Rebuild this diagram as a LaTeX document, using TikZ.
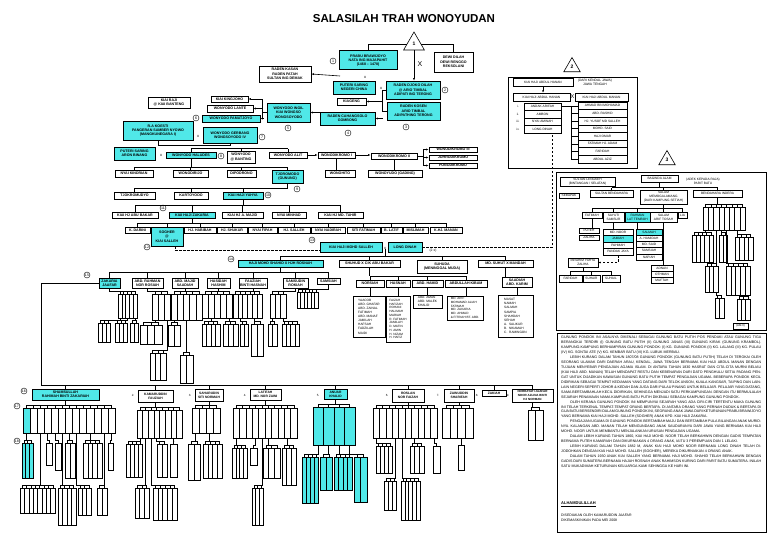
\documentclass[tikz,border=0pt]{standalone}
\usepackage{fontspec}
\setmainfont{Liberation Sans}
\usetikzlibrary{arrows.meta,shapes.geometric}
\definecolor{cy}{RGB}{80,232,232}
\tikzset{
 ln/.style={line width=0.6pt},
 arr/.style={ln,-{Latex[length=2.4pt,width=2pt]}},
 dsh/.style={ln,dash pattern=on 2.5pt off 1.5pt},
 pbox/.style={draw,line width=0.8pt,fill=white,inner sep=0.4pt,align=center,font=\fontsize{3.6}{4.3}\selectfont\bfseries},
 cbox/.style={pbox,fill=cy},
 sbox/.style={pbox,line width=0.6pt,font=\fontsize{3.2}{3.9}\selectfont},
 scbox/.style={sbox,fill=cy},
 lbox/.style={pbox,align=left,font=\fontsize{3.2}{4.1}\selectfont,inner sep=1.2pt},
 gbox/.style={draw,line width=0.45pt,fill=white,inner sep=0pt},
 gcbox/.style={gbox,fill=cy},
 circ/.style={draw,circle,line width=0.4pt,inner sep=0pt,minimum size=6pt,font=\fontsize{3.6}{4}\selectfont},
 tri/.style={draw,line width=0.6pt,regular polygon,regular polygon sides=3,inner sep=0pt,font=\fontsize{5}{5}\bfseries\selectfont},
 xm/.style={inner sep=0pt,font=\fontsize{4}{4}\selectfont},
 frame/.style={draw,line width=0.9pt},
}
\newcommand\bx[7][pbox]{\node[#1, minimum width={(#5-#3)*1pt}, minimum height={(#6-#4)*1pt}] (#2) at ({(#3+#5)/2},{(#4+#6)/2}) {#7};}
\newcommand\grp[7][gbox]{%
  \pgfmathsetmacro\gw{(#5-#3)/#7}%
  \pgfmathsetmacro\gy{(#4+#6)/2}%
  \pgfmathsetmacro\gh{#6-#4}%
  \foreach \i in {1,...,#7}{%
    \pgfmathsetmacro\gx{#3+(\i-0.5)*\gw}%
    \node[#1, minimum width=\gw pt, minimum height=\gh pt] (#2-\i) at (\gx,\gy) {};%
  }%
  \coordinate (#2-bar) at ([yshift=2.5pt]#2-1.north);%
  \draw[ln] (#2-bar) -- ([yshift=2.5pt]#2-#7.north);%
  \foreach \i in {1,...,#7}{\draw[ln] (#2-\i.north) -- ++(0,-2.5);}%
}
\newcommand\link[2]{\draw[ln] (#1.south) |- (#2-bar);}
\begin{document}
\begin{tikzpicture}[x=1pt,y=-1pt]
\useasboundingbox (0,0) rectangle (768,535);
\node[font=\fontsize{11.5}{12}\selectfont\bfseries] (title) at (404,19) {SALASILAH TRAH WONOYUDAN};

% ---------- top generations ----------
\node[tri,minimum size=24pt] (t1) at (414,44) {1};
\node[tri,minimum size=19pt] (t2) at (572,67) {2};
\node[tri,minimum size=19pt] (t3) at (667,160) {3};

\bx[cbox,line width=1pt]{prabu}{339}{51}{397}{70}{PRABU BRAWIJOYO\\NATA ING MAJAPAHIT\\(1468 -- 1478)}
\bx{dewi}{434}{52}{473}{72}{DEWI DILAH\\DEWI RENGGO\\REKSOLANI}
\draw[ln] (t1.west) -| (prabu.north);
\draw[ln] (t1.east) -| (dewi.north);
\bx[cbox]{djoko}{386}{81}{440}{99}{RADEN DJOKO DILAH\\@ ARIO TIMBAL\\ADIPATI ING TERONG}
\draw[arr] (t1.south) -- (t1.south |- djoko.north);
\node[font=\fontsize{7}{7}\selectfont] (bigx) at (420,64) {X};
\bx{kasan}{259}{66}{311}{82}{RADEN KASAN\\RADEN PATAH\\SULTAN ING DEMAK}
\coordinate (kasanin) at (340,76);
\draw[arr] (kasanin) -- (kasan.east);
\node[xm] (xk) at (365,77) {x};
\bx[cbox]{saring}{333}{81}{375}{94}{PUTERI SARING\\NEGERI CHINA}
\node[xm] (xs) at (381,88) {x};
\bx[cbox]{kosen}{387}{102}{440}{120}{RADEN KOSEN\\ARIO TIMBAL\\ADIPATHING TERONG}
\draw[ln] (djoko.west) -- ++(-3,0) coordinate (dk) |- (kosen.west);
\bx{kiageng}{337}{98}{366}{105}{KIAGENG}
\bx[cbox]{cahang}{320}{112}{375}{125}{RADEN CAHANGSOLO\\GOMBONG}
\draw[arr] (dk |- kiageng) -- (kiageng.east);
\draw[arr] (dk |- cahang) -- (cahang.east);
\bx[cbox]{ingil}{267}{103}{310}{122}{WONYODO INGIL\\KIAI WONGSO\\WONGSOYODO}
\draw[arr] (cahang.west |- ingil.east) -- (ingil.east);
\bx{kingjoho}{211}{96}{248}{102}{KIAI KINGJOHO}
\bx{lante}{207}{105}{253}{112}{WONYODO LANTE}
\bx[cbox]{pamat}{202}{115}{260}{122}{WONYODO PAMATJOYO}
\draw[ln] (ingil.west) -- ++(-4,0) coordinate (ib);
\draw[ln] (ib |- kingjoho) -- (ib |- pamat);
\foreach \n in {kingjoho,lante,pamat} \draw[arr] (ib |- \n) -- (\n.east);
\bx{raji}{148}{97}{190}{108}{KIAI RAJI\\@ KIAI BANTENG}
\bx[cbox]{koesti}{123}{121}{193}{140}{R.A KOESTI\\PANGERAN SAMBER NYOWO\\(MANGKUNEGARA I)}
\node[xm] (xg) at (198,136) {x};
\bx[cbox]{gerbang}{203}{127}{257}{143}{WONYODO GERBANG\\WONGSOYODO IV}
\draw[ln] (koesti.south) -- ++(0,5) -| (gerbang.south);

\bx[cbox]{psaring}{114}{147}{155}{160}{PUTERI SARING\\ARON BINANG}
\node[xm] (xh) at (161,155) {x};
\bx[cbox]{haludes}{166}{152}{216}{158}{WONYODO HALUDES}
\bx{banting}{227}{151}{255}{163}{WONYODO\\@ BANTING}
\bx{alit}{269}{152}{307}{158}{WONYODO ALIT}
\bx{wk1}{318}{152}{355}{158}{WONODIKROMO I}
\bx{wk2}{371}{153}{417}{159}{WONODIKROMO II}
\bx{wk3}{429}{147}{477}{152}{WONODIKROMO III}
\bx{johro}{429}{155}{477}{160}{JOHRODIKROMO}
\bx{pondo}{429}{163}{477}{168}{PONODIKROMO}
\coordinate (yA) at (0,148.5);
\foreach \n in {haludes,banting,alit} \draw[ln] (\n.north) -- (\n.north |- yA);
\draw[ln] (haludes.north |- yA) -- (alit.north |- yA);
\draw[ln] (gerbang.south) ++(0,5) -- (gerbang.south |- yA);
\draw[arr] (alit.east) -- (wk1.west);
\draw[arr] (wk1.east) -- (wk1.east -| wk2.west);
\draw[ln] (wk2.east) -- ++(6,0) coordinate (wb);
\draw[ln] (wb |- wk3) -- (wb |- pondo);
\foreach \n in {wk3,johro,pondo} \draw[arr] (wb |- \n) -- (\n.west);

\bx{kindrian}{115}{170}{153}{177}{NYAI KINDRIAN}
\bx{wonodirijo}{173}{170}{208}{177}{WONODIRIJO}
\bx{dipodrono}{227}{170}{256}{177}{DIPODRONO}
\bx[cbox]{tjoromodo}{272}{170}{303}{183}{TJOROMODO\\(GUNUNG)}
\bx{wonohito}{325}{170}{355}{177}{WONOHITO}
\bx{gading}{368}{170}{422}{177}{WONOYUDO (GADING)}
\coordinate (yB) at (0,167);
\foreach \n in {kindrian,wonodirijo,dipodrono,tjoromodo} \draw[ln] (\n.north) -- (\n.north |- yB);
\draw[ln] (kindrian.north |- yB) -- (tjoromodo.north |- yB);
\draw[ln] (haludes.south) -- (haludes.south |- yB);
\draw[ln] (wk1.south) -- (wk1.south |- wonohito.north);
\draw[ln] (wk2.south) -- (wk2.south |- gading.north);

\bx{tjokro}{114}{192}{155}{199}{TJOKROMUDYO}
\bx{kartoyodo}{174}{192}{208}{199}{KARTOYODO}
\bx[cbox]{yahya}{223}{192}{263}{199}{KIAI HAJI YAHYA}
\coordinate (yC) at (0,188);
\foreach \n in {tjokro,kartoyodo,yahya} \draw[ln] (\n.north) -- (\n.north |- yC);
\draw[ln] (tjokro.north |- yC) -- (tjoromodo.south |- yC) -- (tjoromodo.south);

\bx{abubakar}{112}{212}{158}{218}{KIAI HJ ABU BAKAR}
\bx[cbox]{zakaria}{169}{212}{215}{218}{KIAI HAJI ZAKARIA}
\bx{amajid}{222}{212}{263}{218}{KIAI HJ A. MAJID}
\bx{minhad}{272}{212}{306}{218}{NYAI MINHAD}
\bx{tahir}{318}{212}{363}{218}{KIAI HJ MD. TAHIR}
\coordinate (yD) at (0,205);
\foreach \n in {abubakar,zakaria,amajid,minhad,tahir} \draw[ln] (\n.north) -- (\n.north |- yD);
\draw[ln] (abubakar.north |- yD) -- (tahir.north |- yD);
\draw[ln] (yahya.south) -- (yahya.south |- yD);

\bx{darini}{125}{227}{150}{233}{K. DARINI}
\bx[cbox]{sogher}{151}{227}{183}{246}{SOGHER\\@\\KIAI SALLEH}
\bx{habibah}{184}{227}{216}{233}{HJ. HABIBAH}
\bx{shukur}{217}{227}{247}{233}{HJ. SHUKUR}
\bx{fipah}{248}{227}{277}{233}{NYAI FIPAH}
\bx{hsalleh}{278}{227}{310}{233}{HJ. SALLEH}
\bx{nadirah}{311}{227}{345}{233}{NYAI NADIRAH}
\bx{sfatimah}{347}{227}{380}{233}{SITI FATIMAH}
\bx{blatif}{381}{227}{402}{233}{B. LATIF}
\bx{mislimah}{403}{227}{428}{233}{MISLIMAH}
\bx{kmanan}{430}{227}{462}{233}{K.HJ. MANAN}
\coordinate (yE) at (0,223);
\foreach \n in {darini,sogher,habibah,shukur,fipah,hsalleh,nadirah,sfatimah,blatif,mislimah,kmanan} \draw[ln] (\n.north) -- (\n.north |- yE);
\draw[ln] (darini.north |- yE) -- (kmanan.north |- yE);
\draw[ln] (zakaria.south) -- (zakaria.south |- yE);

\bx[cbox]{msalleh}{320}{242}{382}{252}{KIAI HAJI MOHD SALLEH}
\node[xm] (mx) at (385,248) {x};
\bx[cbox]{ldinah}{388}{242}{422}{252}{LONG DINAH}
\coordinate (dsa) at (175,250);
\draw[dsh] (sogher.south -| dsa) -- (dsa) -- (dsa -| msalleh.west);
\node[xm,font=\fontsize{3.4}{3.4}\selectfont] (twox) at (433,251) {(2 x)};

% ---------- panel 2 ----------
\draw[frame] (508,77) rectangle (637,168);
\bx[sbox]{bh1}{513}{78}{573}{86}{KIAI HAJI ABDUL HANAN}
\node[font=\fontsize{3.3}{3.9}\selectfont,align=center] (bh1note) at (595,82) {(DARI KENDAL JAWA)\\JAWA TENGAH};
\bx[sbox]{bh2}{513}{93}{570}{101}{KIAI HAJI ABDUL HANAN}
\node[font=\fontsize{5.5}{5.5}\selectfont,inner sep=0pt] (bx2) at (572.5,97) {X};
\bx[sbox]{bm}{575}{93}{628}{101}{KIAI HAJI ABDUL MANAN}
\draw[arr] (bh1.south) -- (bh1.south |- bh2.north);
\foreach \t/\r [count=\k] in {ANDAK ARIFAH/i.,AMBON/ii.,NYAI AMINAH/iii.,LONG DINAH/iv.}{
  \pgfmathsetmacro\ya{103+(\k-1)*7.5}\pgfmathsetmacro\yb{\ya+7.5}
  \bx[sbox]{bl\k}{524}{\ya}{561}{\yb}{\t}
  \node[xm,font=\fontsize{3}{3}\selectfont] (rn\k) at (518,{\ya+3.75}) {\r};
}
\foreach \t [count=\k] in {AHMAD BIN MOHAMAD,ABD. RASHID,HJ. YUSOF MD SALLEH,MOHD. SAID,HAJI OMAR,FATIMAH HJ. ADAM,FARIDAH,ABDUL AZIZ}{
  \pgfmathsetmacro\ya{102+(\k-1)*7.6}\pgfmathsetmacro\yb{\ya+7.6}
  \bx[sbox]{br\k}{578}{\ya}{627}{\yb}{\t}
}
\coordinate (lad) at (571,0);
\draw[ln] (bl1.east) -- (bl1.east -| lad);
\draw[ln] (br1.west -| lad) -- (br8.west -| lad);
\foreach \k in {1,...,8} \draw[ln] (br\k.west -| lad) -- (br\k.west);
\draw[dsh] (ldinah.east) -| ([xshift=10pt]bl4.south);

% ---------- Mohd Salleh's children ----------
\bx[cbox]{shahid}{238}{260}{323}{267}{HAJI MOHD SHAHID X HJH ROSNAH}
\bx{shuhud}{339}{260}{400}{267}{SHUHUD X CIK ABU BAKAR}
\bx{suhuda}{417}{260}{467}{273}{SUHUDA\\(MENINGGAL MUDA)}
\bx{suhut}{478}{260}{533}{267}{MD. SUHUT X MANDAH}
\coordinate (yF) at (0,256);
\foreach \n in {shahid,shuhud,suhuda,suhut} \draw[ln] (\n.north) -- (\n.north |- yF);
\draw[ln] (shahid.north |- yF) -- (suhut.north |- yF);
\draw[ln] (mx.south) -- (mx.south |- yF);

\bx{norsiah}{356}{280}{384}{287}{NORSIAH}
\bx{hasnah}{386}{280}{410}{287}{HASNAH}
\bx{ahamid}{412}{280}{443}{287}{ABD. HAMID}
\bx{abdullah}{445}{280}{487}{287}{ABDULLAH KIBAM}
\coordinate (yG) at (0,276);
\foreach \n in {norsiah,hasnah,ahamid,abdullah} \draw[ln] (\n.north) -- (\n.north |- yG);
\draw[ln] (norsiah.north |- yG) -- (abdullah.north |- yG);
\draw[ln] (shuhud.south) -- (shuhud.south |- yG);
\bx{saadiah}{502}{277}{532}{287}{SAADIAH\\ABD. KARIM}
\draw[ln] (suhut.south) -- (suhut.south |- saadiah.north);

\bx[lbox]{lnorsiah}{353}{296}{385}{337}{YAACOB\\ABD. GHAFAR\\ABD. ZAINAL\\FATIMAH\\ABD. MANAF\\JAMILAH\\HAFSAH\\FADZILAH\\MAIDI}
\bx[lbox,font=\fontsize{3.1}{3.75}\selectfont]{lhasnah}{386}{296}{410}{342}{FAIZAH\\HAFIZAH\\ROHANI\\HALIMAH\\MARIAH\\R. FATIMAH\\JAMILAH\\D. MATIN\\H. AMIN\\H. NIZAM\\H. HAFIZ}
\bx[lbox]{lahamid}{413}{296}{442}{307}{ABD. AMAN\\ABD. MALEK\\KHALID}
\bx[lbox,font=\fontsize{3.1}{3.7}\selectfont]{labdullah}{447}{296}{483}{320}{MD. ARIF\\MOHAMAD ALIAH\\FATIMAH\\MD. ZAKARIA\\MD. AHMAD\\\& FITRIAH BT. ABD.}
\bx[lbox]{lsaadiah}{498}{295}{533}{337}{MASAT\\NAMAH\\SALMAH\\SAMPIA\\SHAHDAH\\SEHAH\\A.\ \ SALIKUR\\B.\ \ NIKAMAH\\C.\ \ RAMINGON}
\foreach \a/\b in {norsiah/lnorsiah,hasnah/lhasnah,ahamid/lahamid,abdullah/labdullah,saadiah/lsaadiah} \draw[ln] (\a.south) -- (\a.south |- \b.north);

% ---------- Haji Mohd Shahid's children ----------
\bx[cbox]{zakariaj}{99}{278}{120}{288}{ZAKARIA\\JAAFAR}
\bx{arahman}{132}{278}{163}{288}{ABD. RAHMAN\\NOR ROSIAH}
\bx{amajid2}{172}{278}{198}{288}{ABD. MAJID\\SAADIAH}
\bx{hashim}{207}{278}{230}{288}{HASIDAH\\HASHIM}
\bx{rahmah}{239}{278}{267}{288}{FAUZIAH\\BINTI HASNAH}
\bx{umirah}{283}{278}{308}{288}{SAMSUDIN\\ROKIAH}
\bx{samiah}{317}{278}{340}{284}{SAMSIAH}
\coordinate (yH) at (0,272);
\foreach \n in {zakariaj,arahman,amajid2,hashim,rahmah,umirah,samiah} \draw[ln] (\n.north) -- (\n.north |- yH);
\draw[ln] (zakariaj.north |- yH) -- (samiah.north |- yH);
\draw[ln] (shahid.south) -- (shahid.south |- yH);

\grp{Ga}{118}{294}{137}{318}{5} \link{zakariaj}{Ga}
\grp{Ga1}{98}{323}{110}{342}{3} \link{Ga-1}{Ga1}
\grp{Ga2}{115}{323}{127}{342}{3} \link{Ga-3}{Ga2}
\grp{Ga3}{130}{323}{138}{342}{2} \link{Ga-5}{Ga3}
\grp{Gb}{152}{294}{170}{320}{3} \link{arahman}{Gb}
\grp{Gc}{171}{294}{202}{320}{5} \link{amajid2}{Gc}
\grp{Gb1}{140}{325}{162}{344}{3} \link{Gb-1}{Gb1}
\grp{Gb2}{168.5}{325}{180}{346}{2} \link{Gc-1}{Gb2}
\grp{Gb3}{150}{353}{166}{380}{3} \link{Gb-3}{Gb3}
\grp{Gb4}{180}{355}{193}{383}{2} \link{Gc-3}{Gb4}
\grp{Gd}{202}{294}{232}{318}{5} \link{hashim}{Gd}
\grp{Ge}{233}{294}{262}{318}{6} \link{rahmah}{Ge}
\grp{Gd1}{202}{324}{220}{346}{4} \link{Gd-2}{Gd1}
\grp{Gd2}{223}{324}{238}{346}{3} \link{Gd-5}{Gd2}
\grp{Ge1}{240}{324}{248}{346}{2} \link{Ge-2}{Ge1}
\grp{Ge2}{251}{324}{263}{356}{2} \link{Ge-5}{Ge2}
\grp{Gf}{270}{294}{286}{318}{3} \link{umirah}{Gf}
\grp{Gg}{297}{292}{318}{308}{6} \link{samiah}{Gg}
\grp{Gf1}{268}{324}{277}{346}{2} \link{Gf-1}{Gf1}
\grp{Gf2}{282}{324}{299}{346}{4} \link{Gf-3}{Gf2}

% ---------- Zakaria Jaafar's families ----------
\bx[cbox]{b1}{32}{389}{99}{400}{SHAMSULLAH\\RAHIMAH BINTI ZAKARIAH}
\bx[pbox,font=\fontsize{3.3}{3.9}\selectfont\bfseries]{b2}{138}{390}{173}{402}{KAMARUDDIN\\FAUZIAH}
\bx[pbox,font=\fontsize{3.3}{3.9}\selectfont\bfseries]{b3}{195}{389}{223}{401}{SAHARUDIN\\SITI NORMAH}
\bx[pbox,font=\fontsize{3.3}{3.9}\selectfont\bfseries]{b4}{250}{389}{281}{400}{LATIFAH\\MD. NOR ZAINI}
\bx[cbox,font=\fontsize{3.3}{3.9}\selectfont\bfseries]{b5}{324}{389}{347}{399}{ANUAR\\KHALID}
\bx[pbox,font=\fontsize{3.3}{3.9}\selectfont\bfseries]{b6}{392}{389}{424}{402}{ROSLAN\\NOR FAIZAH}
\bx[pbox,font=\fontsize{3.3}{3.9}\selectfont\bfseries]{b7}{444}{389}{474}{402}{ZAINUDDIN\\SHARIFAH}
\bx[pbox,font=\fontsize{3.3}{3.9}\selectfont\bfseries]{b8}{482}{390}{506}{396}{ZAKIAH}
\bx[pbox,font=\fontsize{3}{3.6}\selectfont\bfseries]{b9}{512}{389}{553}{402}{NORHAYATI JAAFAR\\NOOR AZLINA BINTI\\HJ NORMAN}
\coordinate (lv) at (41,385);
\draw[ln] (zakariaj.west) -| (lv) -- (lv -| b9.north) -- (b9.north);
\foreach \n in {b1,b2,b3,b4,b5,b6,b7,b8} \draw[ln] (\n.north |- lv) -- (\n.north);
\foreach \xx/\t [count=\k] in {133/2.,190/3.,245/4.,318/5.,387/6.,438/7.,477/8.,508/9.} \node[xm,font=\fontsize{3}{3}\selectfont] (num\k) at (\xx,395) {\t};

\grp{G1}{23}{408}{115}{433}{13} \link{b1}{G1}
\node[gcbox,minimum width=7.08pt,minimum height=25pt] (G1cy) at (G1-1) {};
\grp[gcbox]{G1a}{22}{443}{33}{478}{3} \link{G1-1}{G1a}
\grp{G1b}{46}{443}{52}{465}{1} \link{G1-4}{G1b}
\grp{G1c}{55}{443}{61}{470}{1} \link{G1-5}{G1c}
\grp{G1d}{65}{443}{75}{478}{2} \link{G1-7}{G1d}
\grp{G1e}{83}{443}{102}{478}{4} \link{G1-10}{G1e}
\grp{G1f}{108}{443}{113}{470}{1} \link{G1-13}{G1f}
\grp{G1g}{20}{488}{55}{513}{8} \link{G1-3}{G1g}
\grp{G1h}{58}{488}{76}{525}{4} \link{G1-6}{G1h}
\grp{G1i}{78}{488}{91}{515}{3} \link{G1-8}{G1i}
\grp{G1j}{97}{488}{107}{515}{2} \link{G1-12}{G1j}

\grp{G2}{137}{410}{182}{438}{8} \link{b2}{G2}
\grp{G2a}{126}{444}{142}{477}{4} \link{G2-1}{G2a}
\grp{G2b}{157}{444}{167}{477}{2} \link{G2-4}{G2b}
\grp{G2c}{170}{444}{177}{477}{1} \link{G2-7}{G2c}
\grp{G2d}{135}{488}{149}{518}{3} \link{G2-2}{G2d}
\grp{G2e}{153}{488}{177}{520}{5} \link{G2-3}{G2e}

\grp{G3}{192}{408}{220}{433}{4} \link{b3}{G3}
\grp{G3a}{188}{444}{200}{480}{2} \link{G3-1}{G3a}
\grp{G3b}{203}{444}{222}{478}{4} \link{G3-3}{G3b}

\grp{G4}{233}{408}{297}{438}{10} \link{b4}{G4}
\grp{G4a}{232}{448}{247}{478}{4} \link{G4-1}{G4a}
\grp{G4b}{250}{448}{257}{465}{1} \link{G4-4}{G4b}
\grp{G4c}{263}{448}{280}{478}{3} \link{G4-6}{G4c}
\grp{G4d}{252}{488}{263}{525}{3} \link{G4-5}{G4d}
\grp{G4e}{282}{448}{296}{485}{3} \link{G4-9}{G4e}

\grp[gcbox]{G5}{313}{407}{355}{445}{4} \link{b5}{G5}
\grp[gcbox]{G5a}{302}{457}{318}{503}{4} \link{G5-1}{G5a}
\grp[gcbox]{G5b}{320}{457}{332}{490}{2} \link{G5-2}{G5b}
\grp[gcbox]{G5c}{334}{457}{352}{490}{4} \link{G5-3}{G5c}
\grp[gcbox]{G5d}{354}{457}{367}{502}{2} \link{G5-4}{G5d}

\grp{G6}{373}{408}{437}{438}{10} \link{b6}{G6}
\grp{G6a}{376}{446}{392}{473}{4} \link{G6-1}{G6a}
\grp{G6b}{410}{446}{424}{473}{3} \link{G6-7}{G6b}
\grp{G6c}{433}{446}{440}{473}{1} \link{G6-10}{G6c}
\grp{G6d}{384}{481}{396}{510}{3} \link{G6-4}{G6d}
\grp{G6e}{401}{481}{420}{520}{5} \link{G6-5}{G6e}

\grp{G7}{442}{408}{473}{438}{4} \link{b7}{G7}
\grp{G7a}{458}{445}{464}{470}{1} \link{G7-3}{G7a}
\grp{G9}{528}{410}{543}{440}{2} \link{b9}{G9}

% ---------- panel 3 ----------
\draw[frame] (556,172) rectangle (766,330);
\bx[sbox]{lengkeh}{560}{177}{615}{186}{SULTAN LENGKEH\\(BINTANGAN / SELATAN)}
\bx[sbox]{bagalam}{641}{175}{678}{182}{BAGINDA ALAM}
\node[font=\fontsize{3.2}{3.8}\selectfont,align=center] (bgnote) at (703,181) {(ADEK KEPADA RAJA)\\PARIT BATU};
\bx[sbox]{sebapak}{559}{193}{579}{198}{SEBAPAK}
\bx[sbox]{sbend}{590}{190}{633}{197}{SULTAN BENDAHARA}
\bx[sbox]{salam}{640}{190}{687}{204}{SALAM\\MEMOGALAMANG\\(DARI KAMPUNG SETIAH)}
\bx[sbox]{bendahara}{693}{190}{742}{197}{BENDAHARA INDERA}
\coordinate (yJ) at (0,187.5);
\foreach \n in {sbend,salam,bendahara} \draw[ln] (\n.north) -- (\n.north |- yJ);
\draw[ln] (sbend.north |- yJ) -- (bendahara.north |- yJ);
\draw[ln] (bagalam.south) -- (bagalam.south |- yJ);
\bx[sbox]{fatimah3}{582}{212}{602}{218}{FATIMAH}
\bx[sbox]{sayuti}{603}{212}{624}{222}{SAYUTI\\SAMSUR}
\bx[scbox]{rahman3}{625}{212}{650}{222}{RAHMAN\\LAT TEMBOH}
\bx[sbox]{arif}{650}{212}{677}{222}{SALAM\\ARIF TOSAH}
\bx[sbox]{lia}{678}{212}{687}{218}{LIA}
\coordinate (yK) at (0,208);
\foreach \n in {fatimah3,sayuti,rahman3,arif,lia} \draw[ln] (\n.north) -- (\n.north |- yK);
\draw[ln] (fatimah3.north |- yK) -- (lia.north |- yK);
\draw[ln] (salam.south) -- (salam.south |- yK);
\bx[sbox]{puteh}{579}{228}{599}{233}{PUTEH}
\bx[sbox]{zaliha}{579}{235}{599}{240}{ZALIHA}
\draw[ln] (fatimah3.south) -- (fatimah3.south |- puteh.north);
\bx[sbox]{mdnoor}{603}{229}{633}{235.5}{MD. NOOR}
\bx[scbox]{jamiah}{603}{235.5}{633}{242}{JAMIAH}
\bx[sbox]{pahmah}{603}{242}{633}{248.5}{PAHMAH}
\bx[sbox]{pandak}{603}{248.5}{633}{255}{PANDAK JAYA}
\draw[ln] (sayuti.south) -- (sayuti.south |- mdnoor.north);
\bx[scbox]{salmah3}{636}{229}{662}{235.2}{SALMAH}
\bx[sbox]{ahamidah}{636}{235.2}{662}{241.4}{A. HAMIDAH}
\bx[sbox]{mdsaid}{636}{241.4}{662}{247.6}{MD. SAID}
\bx[sbox]{samsiah3}{636}{247.6}{662}{253.8}{SAMSIAH}
\bx[sbox]{napiah}{636}{253.8}{662}{260}{NAPIAH}
\draw[ln] (rahman3.south) -- (rahman3.south |- salmah3.north);
\bx[sbox]{adnan}{651}{265}{673}{271}{ADNAN}
\bx[sbox]{othman}{651}{271}{673}{277}{OTHMAN}
\bx[sbox]{muftah}{651}{277}{673}{283}{MUFTAH}
\draw[ln] (arif.south) -- (arif.south |- adnan.north);
\bx[sbox]{ibrahim}{568}{258}{598}{267}{IBRAHIM YAHYA\\ZALIHA}
\draw[dsh,-{Latex[length=2.2pt,width=1.8pt]}] (pandak.south) |- (ibrahim.east);
\bx[sbox]{faridah3}{559}{275}{582}{282}{FARIDAH}
\bx[sbox]{suhair}{583}{275}{600}{282}{SUHAIR}
\bx[sbox]{suhail}{602}{275}{620}{282}{SUHAIL}
\coordinate (yL) at (0,271);
\foreach \n in {faridah3,suhair,suhail} \draw[ln] (\n.north) -- (\n.north |- yL);
\draw[ln] (faridah3.north |- yL) -- (suhail.north |- yL);
\draw[ln] (ibrahim.south) -- (ibrahim.south |- yL);

\grp{R1}{703}{207}{745}{230}{8} \link{bendahara}{R1}
\grp{R1a}{692}{235}{713}{262}{5} \link{R1-1}{R1a}
\grp{R1b}{719}{235}{727}{262}{2} \link{R1-4}{R1b}
\grp{R1c}{735}{237}{753}{260}{4} \link{R1-7}{R1c}
\grp{R1d}{705}{266}{718}{292}{3} \link{R1-3}{R1d}
\grp{R1e}{726}{266}{750}{295}{5} \link{R1-5}{R1e}
\grp{R1f}{715}{298}{724}{318}{2} \link{R1d-3}{R1f}
\grp{R1g}{737}{299}{750}{320}{3} \link{R1e-4}{R1g}
\bx[sbox,font=\fontsize{2.8}{3}\selectfont]{amii}{733}{323}{748}{329}{(AM.II)}

% ---------- circled numbers ----------
\foreach \n/\xx/\yy in {1/333/61,2/445/90,3/406/127,4/348/133,5/288/128,6/196/118,7/262/137,8/221/156,9/297/189,10/268/195,11/163/208,12/147/247,13/312/240,14/231/259,15/87/275,16/24/391,17/17/406,18/17/441}
  \node[circ] (c\n) at (\xx,\yy) {\n};

% ---------- story panel ----------
\draw[frame] (557,333) rectangle (766,532);
\node[anchor=north west,text width=200pt,align=justify,inner sep=0pt,font=\fontsize{3.6}{4.95}\selectfont] (story) at (561,336) {%
GUNUNG PONDOK INI ASALNYA DIKENALI SEBAGAI GUNUNG BATU PUTIH POS PENDAKI ATAU GUNUNG TIGA BERANGKAI TERDIRI (I) GUNUNG BATU PUTIH (II) GUNUNG JANAS (III) GUNUNG KIRAK (GUNUNG KRAMBOL). KAMPUNG-KAMPUNG BERHAMPIRAN GUNUNG PONDOK: (I) KG. GUNUNG PONDOK (II) KG. LALANG (III) KG. PULAU (IV) KG. SONTAI ATE (V) KG. KEMBAR BATU (VI) KG. LUBUK MERBAU.\par
\hspace*{9pt}LEBIH KURANG DALAM TAHUN 1807/08 GUNUNG PONDOK (GUNUNG BATU PUTIH) TELAH DI TEROKAI OLEH SEORANG ULAMAK DARI DAERAH ARAU, KENDAL, JAWA TENGAH BERNAMA KIAI HAJI ABDUL MANAN DENGAN TUJUAN MENYEBAR PENGAJIAN AGAMA ISLAM. DI ANTARA TAHUN 1830 HASRAT DAN CITA-CITA MURNI BELIAU (KIAI HAJI ABD. MANAN) TELAH MENDAPAT RESTU DAN KEBENARAN DARI DATO PENGHULU SETIA PADANG PENGAT UNTUK DIJADIKAN KAWASAN GUNUNG BATU PUTIH TEMPAT PENGAJIAN UGAMA. BEBERAPA PONDOK KECIL DIDIRIKAN SEBAGAI TEMPAT KEDIAMAN YANG DATANG DARI TELOK ANSON, KUALA KANGSAR, TAIPING DAN LAIN-LAIN NEGERI SEPERTI JOHOR \& KEDAH DAN JUGA DARI PULAU PINANG UNTUK BELAJAR. PELAJAR YANG DATANG, SAMA BERTAMBAHLAH KECIL DIDIRIKAN, SEHINGGA MENJADI SATU PERKAMPUNGAN. DENGAN ITU BERMULALAH SEJARAH PENAMAAN NAMA KAMPUNG BATU PUTIH DIKENALI SEBAGAI KAMPUNG GUNUNG PONDOK.\par
\hspace*{9pt}OLEH KERANA GUNUNG PONDOK INI MEMPUNYAI SEJARAH YANG ADA CIRI-CIRI TERTENTU MAKA GUNUNG INI TELAH TERKENAL TEMPAT-TEMPAT ORANG BERTAPA. DI ANTARA ORANG YANG PERNAH DUDUK \& BERTAPA DI GUA BATU BERSENDIRI DALAM GUNUNG PONDOK INI, SEORANG ANAK JAWA DARI KETURUNAN PRABU BRAWIJOYO YANG BERNAMA KIAI HAJI MOHD. SALLEH (SOGHER) ANAK KPD. KIAI HAJI ZAKARIA.\par
\hspace*{9pt}PENGAJIAN UGAMA DI GUNUNG PONDOK BERTAMBAH MAJU DAN BERTAMBAH PULA BILANGAN ANAK MURID-NYA. KALANGAN ABD. MANAN TELAH MENGUNDANG ANAK SAUDARANYA DARI JAWA YANG BERNAMA KIAI HAJI MOHD. NOOR UNTUK MEMBANTU MENJALANKAN URUSAN PENGAJIAN UGAMA.\par
\hspace*{9pt}DALAM LEBIH KURANG TAHUN 1860, KIAI HAJI MOHD. NOOR TELAH BERKAHWIN DENGAN GADIS TEMPATAN BERNAMA PUTEH KAMARIAH DAN DIKURNIAKAN 4 ORANG ANAK, IAITU 3 PEREMPUAN DAN 1 LELAKI.\par
\hspace*{9pt}LEBIH KURANG DALAM TAHUN 1882 M, ANAK KIAI HAJI MOHD NOOR BERNAMA LONG DINAH TELAH DIJODOHKAN DENGAN KIAI HAJI MOHD. SALLEH (SOGHER), MEREKA DIKURNIAKAN 4 ORANG ANAK.\par
\hspace*{9pt}DALAM TAHUN 1930 ANAK KIAI SALLEH YANG BERNAMA HAJI MOHD. SHAHID TELAH BERKAHWIN DENGAN GADIS DARI SUMATERA BERNAMA HAJAH ROSNAH ANAK RAHIMSON KURING DARI PARIT BATU SUMATERA. INILAH SATU MUKADIMAH KETURUNAN KELUARGA KAMI SEHINGGA KE HARI INI.};
\node[anchor=north west,inner sep=0pt,font=\fontsize{4}{5}\selectfont\bfseries] (alh) at (561,502) {\underline{ALHAMDULILLAH}};
\node[anchor=north west,inner sep=0pt,align=left,font=\fontsize{3.5}{5}\selectfont] (sedia) at (561,514) {DISEDIAKAN OLEH KAMARUDDIN JAAFAR\\DIKEMASKINIKAN PADA MEI 2008};
\end{tikzpicture}
\end{document}
